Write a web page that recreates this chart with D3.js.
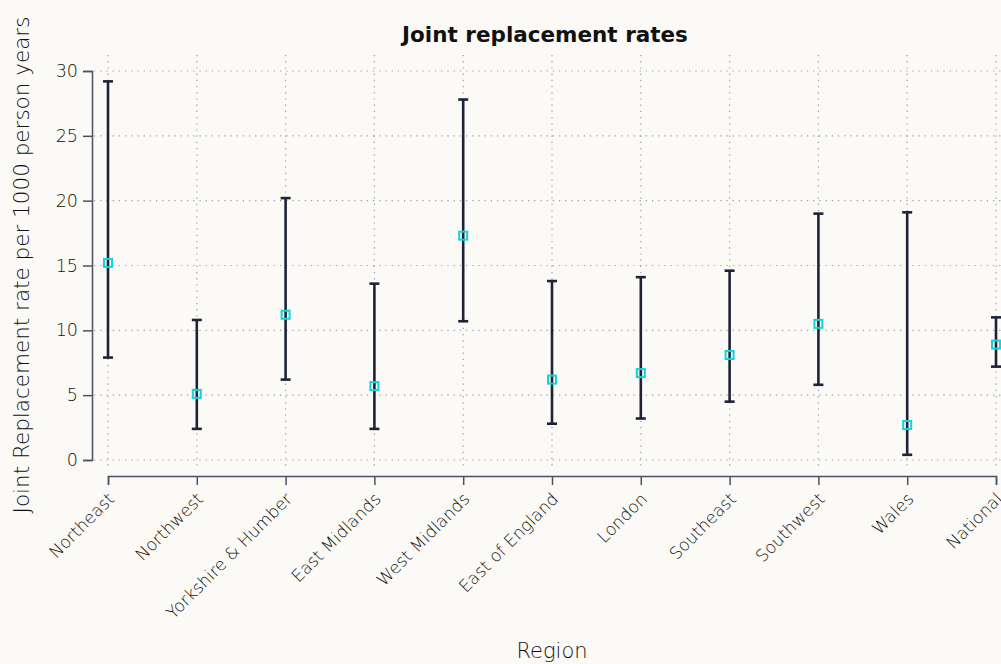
<!DOCTYPE html>
<html>
<head>
<meta charset="utf-8">
<script src="https://cdn.jsdelivr.net/npm/d3@7"></script>
<style>
  html, body { margin: 0; padding: 0; background: #fbfaf6; }
  svg { display: block; }
  text { font-family: "DejaVu Sans", sans-serif; }
</style>
</head>
<body>
<svg id="chart" width="1001" height="664"></svg>
<script>
// Regional joint replacement rates (per 1000 person years) with confidence limits
const regions = ["Northeast", "Northwest", "Yorkshire & Humber", "East Midlands", "West Midlands",
  "East of England", "London", "Southeast", "Southwest", "Wales", "National"];
const rates = [15.2, 5.1, 11.2, 5.7, 17.3, 6.2, 6.7, 8.1, 10.5, 2.7, 8.9];
const lowerCI = [7.9, 2.4, 6.2, 2.4, 10.7, 2.8, 3.2, 4.5, 5.8, 0.4, 7.2];
const upperCI = [29.2, 10.8, 20.2, 13.6, 27.8, 13.8, 14.1, 14.6, 19.0, 19.1, 11.0];
const yTicks = [0, 5, 10, 15, 20, 25, 30];

const rows = regions.map((r, i) => ({ region: r, rate: rates[i], lo: lowerCI[i], hi: upperCI[i] }));

const svg = d3.select("#chart");
const W = 1001, H = 664;
const axisColor = "#4b5064";
const gridColor = "#9a9ca6";
const barColor = "#1f2338";
const markColor = "#12d3d9";
const textColor = "#111111";
const font = "'DejaVu Sans', sans-serif";

const x = d3.scalePoint().domain(regions).range([108, 996]);
const y = d3.scaleLinear().domain([0, 30]).range([460, 71]);

const plotTop = 55, plotBottom = 470, plotLeft = 94, plotRight = W;

// dotted grid
const grid = svg.append("g");
grid.selectAll("line.h").data(yTicks).join("line")
  .attr("x1", plotLeft).attr("x2", plotRight)
  .attr("y1", d => y(d)).attr("y2", d => y(d))
  .attr("stroke", gridColor).attr("stroke-width", 1.2)
  .attr("stroke-dasharray", "1.2,5");
grid.selectAll("line.v").data(regions).join("line")
  .attr("x1", d => x(d)).attr("x2", d => x(d))
  .attr("y1", plotTop).attr("y2", plotBottom)
  .attr("stroke", gridColor).attr("stroke-width", 1.2)
  .attr("stroke-dasharray", "1.2,5");

// axes
const yAxis = svg.append("g").attr("transform", "translate(92,0)")
  .call(d3.axisLeft(y).tickValues(yTicks).tickSize(9).tickPadding(5));
const xAxis = svg.append("g").attr("transform", "translate(0,476)")
  .call(d3.axisBottom(x).tickSize(9).tickPadding(4));
[yAxis, xAxis].forEach(g => {
  g.attr("font-family", font);
  g.selectAll("path, line").attr("stroke", axisColor).attr("stroke-width", 1.5);
  g.selectAll("text").attr("fill", textColor).attr("font-weight", 300);
});
yAxis.attr("font-size", 17.5);
xAxis.attr("font-size", 17);
xAxis.selectAll("text")
  .attr("text-anchor", "end")
  .attr("dy", null)
  .attr("transform", "translate(7,24) rotate(-45)")
  .attr("y", 0).attr("x", 0);

// error bars
const capHalf = 5;
const bars = svg.append("g").attr("stroke", barColor).attr("stroke-width", 2.6);
bars.selectAll("line.stem").data(rows).join("line")
  .attr("x1", d => x(d.region)).attr("x2", d => x(d.region))
  .attr("y1", d => y(d.lo)).attr("y2", d => y(d.hi));
bars.selectAll("line.top").data(rows).join("line")
  .attr("x1", d => x(d.region) - capHalf).attr("x2", d => x(d.region) + capHalf)
  .attr("y1", d => y(d.hi)).attr("y2", d => y(d.hi));
bars.selectAll("line.bot").data(rows).join("line")
  .attr("x1", d => x(d.region) - capHalf).attr("x2", d => x(d.region) + capHalf)
  .attr("y1", d => y(d.lo)).attr("y2", d => y(d.lo));

// rate markers
svg.append("g").selectAll("rect").data(rows).join("rect")
  .attr("x", d => x(d.region) - 4).attr("y", d => y(d.rate) - 4)
  .attr("width", 8).attr("height", 8)
  .attr("fill", "none").attr("stroke", markColor).attr("stroke-width", 2);

// titles
svg.append("text").attr("x", 545).attr("y", 42).attr("text-anchor", "middle")
  .attr("font-size", 21.5).attr("font-weight", "bold").attr("fill", "#111")
  .text("Joint replacement rates");
svg.append("text").attr("transform", "translate(29,265) rotate(-90)")
  .attr("text-anchor", "middle").attr("font-size", 21.5).attr("font-weight", 300).attr("fill", textColor)
  .text("Joint Replacement rate per 1000 person years");
svg.append("text").attr("x", 552).attr("y", 658).attr("text-anchor", "middle")
  .attr("font-size", 21).attr("font-weight", 300).attr("fill", textColor).text("Region");
</script>
</body>
</html>
